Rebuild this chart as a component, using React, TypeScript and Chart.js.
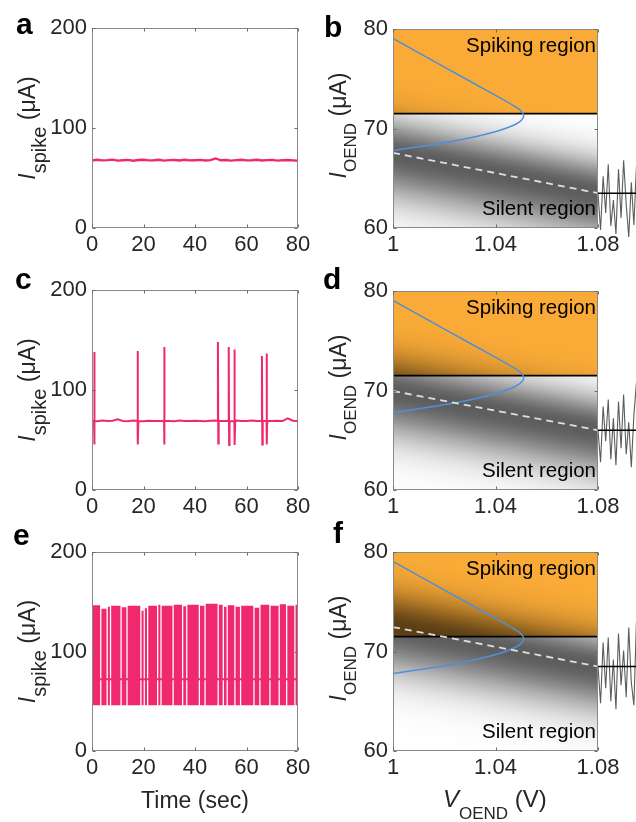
import React, { useEffect, useRef } from "react";
import { Chart, registerables } from "chart.js";

Chart.register(...registerables);

const FONT = '"Liberation Sans", Arial, Helvetica, sans-serif';
const PINK = "#F0286E";
const ORANGE = "#FAAB37";
const BLUE = "#4F8FD8";
const TEXT = "#262626";

// ---------------- data ----------------
const timeTicks = [0, 20, 40, 60, 80];
const spikeTicks = [0, 100, 200];
const voltTicks = [1, 1.04, 1.08];
const voltTickLabels = ["1", "1.04", "1.08"];
const currentTicks = [60, 70, 80];

const baseTimes = [0, 2, 4, 6, 8, 10, 12, 14, 16, 18, 20, 22, 24, 26, 28, 30, 32, 34, 36, 38, 40, 42, 44, 46, 48, 50, 52, 54, 56, 58, 60, 62, 64, 66, 68, 70, 72, 74, 76, 78, 80];

// panel a: silent trace
const aCurrent = [67.5, 68.2, 67.6, 67.9, 68.4, 67.4, 67.8, 68.1, 67.3, 68.0,
  68.3, 67.6, 67.7, 68.2, 67.4, 67.9, 68.0, 67.5, 68.3, 67.6,
  67.8, 68.1, 67.5, 67.9, 69.6, 67.7, 68.0, 67.4, 67.9, 68.2,
  67.6, 67.8, 68.3, 67.5, 67.9, 68.1, 67.4, 67.8, 68.0, 67.6,
  67.3];

// panel c: sparse spikes
const cCurrent = [69.2, 68.8, 69.4, 68.9, 69.3, 70.6, 69.1, 68.7, 69.5, 69.0,
  68.8, 69.3, 69.1, 68.9, 69.6, 69.0, 68.7, 69.4, 69.1, 68.9,
  69.3, 69.0, 68.8, 69.2, 69.5, 68.9, 69.1, 68.8, 69.4, 69.0,
  68.9, 69.6, 69.1, 68.8, 69.3, 69.0, 69.2, 68.9, 71.6, 69.3,
  68.9];
const cRest = 69;
const cSpikeTimes = [0.8, 17.7, 28.0, 48.9, 53.1, 55.3, 66.0, 67.8];
const cSpikePeaks = [138, 139, 143, 148, 143, 140.5, 134, 136.5];
const cSpikeTroughs = [45.5, 45.5, 45.5, 46.5, 45, 45, 45.5, 45.5];

// panel e: dense spiking (bursts separated by short pauses)
const eRest = 72;
const eTrough = 46;
const eGapTimes = [3.4, 5.9, 7.2, 11.3, 13.6, 19.0, 20.3, 21.6, 25.5, 26.8, 31.5, 35.2, 36.8, 41.7, 43.9, 49.0, 51.0, 52.5, 55.5, 57.7, 62.9, 65.2, 69.1, 72.7, 75.6, 78.8];
const eBurstPeaks = [146.5, 143, 145, 146, 144.5, 146, 141, 143.5, 146, 147, 146, 147, 145.5, 147, 146, 148, 147, 145, 146.5, 145, 146, 144, 147, 146, 147.5, 146, 147];

// phase panels b, d, f
const spikingThreshold = 71.5;
const bifurcationV = [1.0003, 1.0157, 1.0262, 1.0367, 1.0437, 1.047, 1.0494, 1.0505, 1.051, 1.0506, 1.0495, 1.0468, 1.0415, 1.0342, 1.0247, 1.0132, 1.0];
const bifurcationI = [79.0, 76.8, 75.3, 73.8, 72.8, 72.3, 71.9, 71.6, 71.3, 71.0, 70.7, 70.3, 69.8, 69.3, 68.8, 68.3, 67.8];
const meanV = [1.0, 1.08];
const meanB = [67.55, 63.5];
const meanD = [69.95, 66.0];
const meanF = [72.45, 68.5];
const noiseV = [1.08, 1.081, 1.082, 1.083, 1.084, 1.085, 1.086, 1.087, 1.088, 1.089, 1.09, 1.091, 1.092, 1.093, 1.094, 1.095];
const noiseB = [63.5, 59.8, 65.2, 61.5, 66.4, 60.2, 62.8, 59.4, 65.9, 61.0, 66.8, 62.4, 59.1, 64.6, 60.3, 66.2];
const noiseD = [66.0, 62.8, 68.4, 64.9, 69.1, 63.1, 67.2, 62.5, 68.9, 64.2, 69.6, 63.6, 66.8, 62.3, 67.5, 70.8];
const noiseF = [68.5, 64.8, 70.9, 66.3, 71.4, 65.0, 69.2, 64.2, 71.8, 66.6, 70.1, 65.4, 72.4, 66.9, 64.6, 73.0];
const noiseTailV = [1.08, 1.1];

// band style
const BAND_ALPHA = 0.64;
const BAND_SIGMA_UP = 2.4;
const BAND_SIGMA_DOWN = 3.2;
const GAP_HALF = 0.25;
const SPIKE_DT = 0.15;

// ---------------- dataset builders ----------------
const pts = (xs: number[], ys: number[]) => xs.map((x, i) => ({ x, y: ys[i] }));

function traceA() {
  return [{ label: "a", data: pts(baseTimes, aCurrent), borderColor: PINK, borderWidth: 2.4 }];
}

function traceC() {
  const arr = pts(baseTimes, cCurrent);
  cSpikeTimes.forEach((t, i) => {
    arr.push({ x: t - 0.001, y: cRest });
    arr.push({ x: t, y: cSpikePeaks[i] });
    arr.push({ x: t + SPIKE_DT, y: cSpikeTroughs[i] });
    arr.push({ x: t + 2 * SPIKE_DT, y: cRest });
  });
  arr.sort((p, q) => p.x - q.x);
  return [{ label: "c", data: arr, borderColor: PINK, borderWidth: 2 }];
}

function traceE() {
  const env: { x: number; y: number }[] = [{ x: 0, y: eTrough }, { x: 0, y: eBurstPeaks[0] }];
  eGapTimes.forEach((g, i) => {
    env.push({ x: g - GAP_HALF, y: eBurstPeaks[i] });
    env.push({ x: g - GAP_HALF, y: eTrough });
    env.push({ x: g + GAP_HALF, y: eTrough });
    env.push({ x: g + GAP_HALF, y: eBurstPeaks[i + 1] });
  });
  env.push({ x: 80, y: eBurstPeaks[eBurstPeaks.length - 1] });
  env.push({ x: 80, y: eTrough });
  return [
    { label: "rest", data: [{ x: 0, y: eRest }, { x: 80, y: eRest }], borderColor: PINK, borderWidth: 2, order: 1 },
    { label: "spikes", data: env, borderWidth: 0, borderColor: PINK, backgroundColor: PINK, fill: { value: eTrough }, order: 2 },
  ];
}

function phaseSets(mean: number[], noise: number[]) {
  const thr = [{ x: 1, y: spikingThreshold }, { x: 1.08, y: spikingThreshold }];
  return [
    { label: "spiking", data: thr, fill: "end", backgroundColor: ORANGE, borderWidth: 0, order: 10 },
    { label: "threshold", data: thr, borderColor: "#000", borderWidth: 1.6, order: 9 },
    { label: "bifurcation", data: pts(bifurcationV, bifurcationI), borderColor: BLUE, borderWidth: 1.5, tension: 0.3, order: 8 },
    { label: "mean", data: pts(meanV, mean), borderColor: "#dedede", borderWidth: 1.8, borderDash: [7, 5], order: 7 },
    { label: "noise", data: pts(noiseV, noise), indexAxis: "y", borderColor: "#5c5c5c", borderWidth: 1.1, clip: false, order: 6 },
    { label: "noiseMean", data: pts(noiseTailV, [mean[1], mean[1]]), borderColor: "#000", borderWidth: 1.6, clip: false, order: 5 },
  ];
}

// ---------------- decoration plugin ----------------
type Part = { t: string; font: string; dy: number };

function drawParts(ctx: CanvasRenderingContext2D, parts: Part[], x: number, y: number, align: string, rotate: boolean) {
  ctx.save();
  ctx.translate(x, y);
  if (rotate) ctx.rotate(-Math.PI / 2);
  let total = 0;
  const widths = parts.map((p) => {
    ctx.font = p.font;
    const w = ctx.measureText(p.t).width;
    total += w;
    return w;
  });
  let cx = align === "center" ? -total / 2 : align === "right" ? -total : 0;
  ctx.textAlign = "left";
  ctx.textBaseline = "alphabetic";
  ctx.fillStyle = TEXT;
  parts.forEach((p, i) => {
    ctx.font = p.font;
    ctx.fillText(p.t, cx, p.dy);
    cx += widths[i];
  });
  ctx.restore();
}

function drawBand(chart: any, band: any) {
  const { ctx, chartArea: ca } = chart;
  const xs = chart.scales.x, ys = chart.scales.y;
  const x0 = xs.getPixelForValue(meanV[0]), x1 = xs.getPixelForValue(meanV[1]);
  const y0 = ys.getPixelForValue(band.mean[0]), y1 = ys.getPixelForValue(band.mean[1]);
  const dx = x1 - x0, dy = y1 - y0, len = Math.hypot(dx, dy);
  const nx = -dy / len, ny = dx / len;
  const cos = dx / len;
  const ppu = Math.abs(ys.getPixelForValue(60) - ys.getPixelForValue(61));
  const mx = (x0 + x1) / 2, my = (y0 + y1) / 2;
  const R = 4.5 * Math.max(BAND_SIGMA_UP, BAND_SIGMA_DOWN) * ppu * cos;
  const g = ctx.createLinearGradient(mx - nx * R, my - ny * R, mx + nx * R, my + ny * R);
  const N = 60;
  for (let k = 0; k <= N; k++) {
    const f = k / N;
    const s = (f * 2 - 1) * R;
    const v = s / cos / ppu;
    const sig = v < 0 ? BAND_SIGMA_UP : BAND_SIGMA_DOWN;
    const a = BAND_ALPHA * Math.exp(-0.5 * (v / sig) * (v / sig));
    g.addColorStop(f, `rgba(0,0,0,${a.toFixed(4)})`);
  }
  ctx.save();
  ctx.beginPath();
  ctx.rect(ca.left, ca.top, ca.right - ca.left, ca.bottom - ca.top);
  ctx.clip();
  ctx.fillStyle = g;
  ctx.fillRect(ca.left, ca.top, ca.right - ca.left, ca.bottom - ca.top);
  ctx.restore();
}

const decorPlugin = {
  id: "decor",
  afterDatasetDraw(chart: any, args: any, opts: any) {
    const ds = chart.data.datasets[args.index];
    if (ds && ds.label === "spiking" && opts.band) drawBand(chart, opts.band);
  },
  afterDraw(chart: any, _args: any, opts: any) {
    const { ctx, chartArea: ca, scales } = chart;
    ctx.save();
    const L = Math.round(ca.left) + 0.5, T = Math.round(ca.top) + 0.5;
    const R = Math.round(ca.right) - 0.5, B = Math.round(ca.bottom) - 0.5;
    ctx.strokeStyle = "#8a8a8a";
    ctx.lineWidth = 1;
    ctx.strokeRect(L, T, R - L, B - T);
    const TL = 3;
    ctx.strokeStyle = "#6a6a6a";
    ctx.beginPath();
    scales.x.ticks.forEach((t: any) => {
      const px = Math.round(scales.x.getPixelForValue(t.value)) + 0.5;
      ctx.moveTo(px, B); ctx.lineTo(px, B - TL);
      ctx.moveTo(px, T); ctx.lineTo(px, T + TL);
    });
    scales.y.ticks.forEach((t: any) => {
      const py = Math.round(scales.y.getPixelForValue(t.value)) + 0.5;
      ctx.moveTo(L, py); ctx.lineTo(L + TL, py);
      ctx.moveTo(R, py); ctx.lineTo(R - TL, py);
    });
    ctx.stroke();
    ctx.restore();

    if (opts.letter) {
      ctx.save();
      ctx.font = `bold 30px ${FONT}`;
      ctx.fillStyle = "#000";
      ctx.textAlign = "left";
      ctx.textBaseline = "alphabetic";
      ctx.fillText(opts.letter.t, opts.letter.x, opts.letter.y);
      ctx.restore();
    }
    if (opts.yTitle) drawParts(ctx, opts.yTitle.parts, opts.yTitle.x, opts.yTitle.y, "center", true);
    if (opts.xTitle) drawParts(ctx, opts.xTitle.parts, opts.xTitle.x, opts.xTitle.y, opts.xTitle.align, false);
    if (opts.regions) {
      ctx.save();
      ctx.font = `20.5px ${FONT}`;
      ctx.fillStyle = "#000";
      ctx.textAlign = "right";
      ctx.textBaseline = "alphabetic";
      ctx.fillText("Spiking region", ca.right - 2, ca.top + 23);
      ctx.fillText("Silent region", ca.right - 2, ca.bottom - 13);
      ctx.restore();
    }
  },
};

// ---------------- panels ----------------
type Plot = { l: number; t: number; r: number; b: number };
type Spec = {
  id: string; cx: number; cy: number; cw: number; ch: number; plot: Plot;
  kind: string; datasets: any[]; letter: { t: string; x: number; y: number };
  yTitleX: number; yTitleDy: number; xTitle?: any; band?: any;
};

const XH = 30;

function buildConfig(spec: Spec) {
  const isTime = spec.kind === "time";
  const tickFont = { family: FONT, size: 22 };
  const yParts: Part[] = isTime
    ? [
        { t: "I", font: `italic 23px ${FONT}`, dy: 0 },
        { t: "spike", font: `20px ${FONT}`, dy: 11 },
        { t: " (μA)", font: `23px ${FONT}`, dy: 0 },
      ]
    : [
        { t: "I", font: `italic 23px ${FONT}`, dy: 0 },
        { t: "OEND", font: `17px ${FONT}`, dy: 10 },
        { t: " (μA)", font: `23px ${FONT}`, dy: 0 },
      ];
  const deco: any = {
    letter: { t: spec.letter.t, x: spec.letter.x - spec.cx, y: spec.letter.y - spec.cy },
    yTitle: { parts: yParts, x: spec.yTitleX - spec.cx, y: (spec.plot.t + spec.plot.b) / 2 + spec.yTitleDy - spec.cy },
    regions: !isTime,
    band: spec.band,
  };
  if (spec.xTitle) {
    deco.xTitle = { ...spec.xTitle, x: spec.xTitle.x - spec.cx, y: spec.xTitle.y - spec.cy };
  }
  return {
    type: "line",
    data: { datasets: spec.datasets },
    options: {
      responsive: false,
      animation: false,
      events: [],
      layout: {
        padding: {
          left: 0,
          top: spec.plot.t - spec.cy,
          right: spec.cx + spec.cw - spec.plot.r,
          bottom: spec.cy + spec.ch - spec.plot.b - XH,
        },
      },
      elements: { point: { radius: 0, hoverRadius: 0 }, line: { borderCapStyle: "butt" } },
      scales: {
        x: {
          type: "linear",
          min: isTime ? 0 : 1,
          max: isTime ? 80 : 1.08,
          afterFit: (s: any) => { s.height = XH; },
          afterBuildTicks: (s: any) => { s.ticks = (isTime ? timeTicks : voltTicks).map((v) => ({ value: v })); },
          grid: { display: false, drawTicks: false },
          border: { display: false },
          ticks: {
            font: tickFont, color: TEXT, padding: 4, maxRotation: 0, autoSkip: false,
            callback: (v: any, i: number) => (isTime ? String(v) : voltTickLabels[i]),
          },
        },
        y: {
          type: "linear",
          min: isTime ? 0 : 60,
          max: isTime ? 200 : 80,
          afterFit: (s: any) => { s.width = spec.plot.l - spec.cx; },
          afterBuildTicks: (s: any) => { s.ticks = (isTime ? spikeTicks : currentTicks).map((v) => ({ value: v })); },
          grid: { display: false, drawTicks: false },
          border: { display: false },
          ticks: { font: tickFont, color: TEXT, padding: 5, autoSkip: false, callback: (v: any) => String(v) },
        },
      },
      plugins: { legend: { display: false }, tooltip: { enabled: false }, decor: deco },
    },
    plugins: [decorPlugin],
  };
}

function Panel({ spec }: { spec: Spec }) {
  const ref = useRef<HTMLCanvasElement>(null);
  useEffect(() => {
    const chart = new Chart(ref.current as HTMLCanvasElement, buildConfig(spec) as any);
    return () => chart.destroy();
  }, []);
  return (
    <canvas
      ref={ref}
      width={spec.cw}
      height={spec.ch}
      style={{ position: "absolute", left: spec.cx, top: spec.cy, width: spec.cw, height: spec.ch }}
    />
  );
}

const leftXTitle = { parts: [{ t: "Time (sec)", font: `23px ${FONT}`, dy: 0 }], x: 195, y: 808, align: "center" };
const rightXTitle = {
  parts: [
    { t: "V", font: `italic 24px ${FONT}`, dy: 0 },
    { t: "OEND", font: `17px ${FONT}`, dy: 12 },
    { t: " (V)", font: `24px ${FONT}`, dy: 0 },
  ],
  x: 443, y: 807, align: "left",
};

const specs: Spec[] = [
  { id: "a", cx: 0, cy: 0, cw: 318, ch: 262, plot: { l: 92, t: 28, r: 298, b: 228 }, kind: "time", datasets: traceA(), letter: { t: "a", x: 16, y: 34 }, yTitleX: 35, yTitleDy: 0 },
  { id: "b", cx: 318, cy: 0, cw: 318, ch: 262, plot: { l: 393, t: 29, r: 598, b: 228 }, kind: "phase", datasets: phaseSets(meanB, noiseB), letter: { t: "b", x: 324, y: 37 }, yTitleX: 346, yTitleDy: -3, band: { mean: meanB } },
  { id: "c", cx: 0, cy: 262, cw: 318, ch: 262, plot: { l: 92, t: 290, r: 298, b: 490 }, kind: "time", datasets: traceC(), letter: { t: "c", x: 15, y: 289 }, yTitleX: 35, yTitleDy: 0 },
  { id: "d", cx: 318, cy: 262, cw: 318, ch: 262, plot: { l: 393, t: 291, r: 598, b: 490 }, kind: "phase", datasets: phaseSets(meanD, noiseD), letter: { t: "d", x: 323, y: 289 }, yTitleX: 346, yTitleDy: -3, band: { mean: meanD } },
  { id: "e", cx: 0, cy: 508, cw: 318, ch: 314, plot: { l: 92, t: 552, r: 298, b: 751 }, kind: "time", datasets: traceE(), letter: { t: "e", x: 13, y: 545 }, yTitleX: 35, yTitleDy: 0, xTitle: leftXTitle },
  { id: "f", cx: 318, cy: 508, cw: 318, ch: 314, plot: { l: 393, t: 552, r: 598, b: 751 }, kind: "phase", datasets: phaseSets(meanF, noiseF), letter: { t: "f", x: 333, y: 543 }, yTitleX: 346, yTitleDy: -3, xTitle: rightXTitle, band: { mean: meanF } },
];

export default function App() {
  return (
    <div style={{ position: "absolute", left: 0, top: 0, width: 636, height: 822, background: "#fff", overflow: "hidden" }}>
      {specs.map((s) => (
        <Panel key={s.id} spec={s} />
      ))}
    </div>
  );
}
